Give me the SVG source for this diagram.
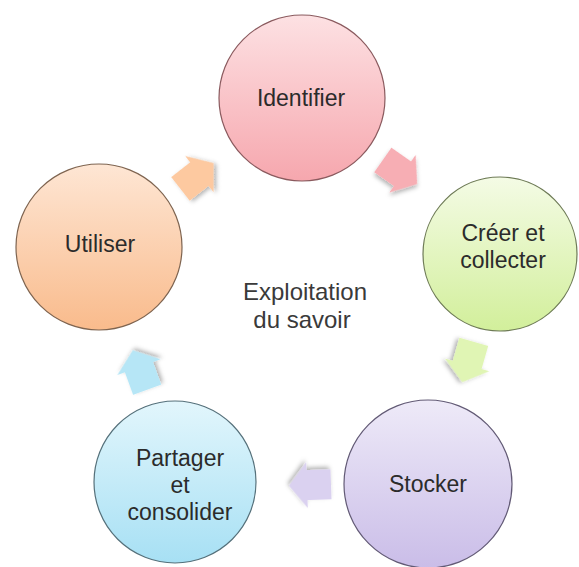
<svg xmlns="http://www.w3.org/2000/svg" width="579" height="567" viewBox="0 0 579 567">
  <defs>
    <linearGradient id="gPink" x1="0" y1="0" x2="0" y2="1"><stop offset="0" stop-color="#fde1e3"/><stop offset="1" stop-color="#f6a7ae"/></linearGradient>
    <linearGradient id="gGreen" x1="0" y1="0" x2="0" y2="1"><stop offset="0" stop-color="#f4fbe5"/><stop offset="1" stop-color="#d2ef9b"/></linearGradient>
    <linearGradient id="gPurple" x1="0" y1="0" x2="0" y2="1"><stop offset="0" stop-color="#eeeaf8"/><stop offset="1" stop-color="#cabde8"/></linearGradient>
    <linearGradient id="gBlue" x1="0" y1="0" x2="0" y2="1"><stop offset="0" stop-color="#e2f6fc"/><stop offset="1" stop-color="#a7e0f4"/></linearGradient>
    <linearGradient id="gOrange" x1="0" y1="0" x2="0" y2="1"><stop offset="0" stop-color="#fee6d4"/><stop offset="1" stop-color="#f9bb8c"/></linearGradient>
    <filter id="shadow" x="-30%" y="-30%" width="160%" height="160%">
      <feDropShadow dx="1.5" dy="2.5" stdDeviation="2" flood-color="#000" flood-opacity="0.3"/>
    </filter>
    <path id="arrow" d="M-21,-15 L3,-15 L3,-23 L21,0 L3,23 L3,15 L-21,15 Z"/>
  </defs>
  <style>
    .node circle { stroke-width: 1.2; }
    .lbl { font-family: "Liberation Sans", Arial, sans-serif; font-size: 23px; fill: #2b2b2b; text-anchor: middle; }
    .center { font-family: "Liberation Sans", Arial, sans-serif; font-size: 24px; fill: #3a3a3a; text-anchor: middle; }
    .arr { filter: url(#shadow); }
  </style>
  <rect width="579" height="567" fill="#ffffff"/>

  <g id="connectors">
    <use href="#arrow" class="arr" fill="#fdc9a0" transform="translate(197,176) rotate(-38)"/>
    <use href="#arrow" class="arr" fill="#f7aeb4" transform="translate(400,172) rotate(35)"/>
    <use href="#arrow" class="arr" fill="#e0f5b4" transform="translate(468,362) rotate(106)"/>
    <use href="#arrow" class="arr" fill="#dad1f0" transform="translate(310,485) rotate(178)"/>
    <use href="#arrow" class="arr" fill="#b6e6f6" transform="translate(140,370) rotate(250)"/>
  </g>

  <g id="identifier" class="node">
    <circle cx="302" cy="98" r="83" fill="url(#gPink)" stroke="#8a5a5e"/>
    <text class="lbl" x="301" y="106">Identifier</text>
  </g>
  <g id="creer" class="node">
    <circle cx="500" cy="254" r="77" fill="url(#gGreen)" stroke="#6d7a55"/>
    <text class="lbl" x="503" y="241">Créer et</text>
    <text class="lbl" x="503" y="268">collecter</text>
  </g>
  <g id="stocker" class="node">
    <circle cx="428" cy="484" r="84" fill="url(#gPurple)" stroke="#625a75"/>
    <text class="lbl" x="428" y="492">Stocker</text>
  </g>
  <g id="partager" class="node">
    <circle cx="175" cy="482" r="81" fill="url(#gBlue)" stroke="#55707a"/>
    <text class="lbl" x="180" y="466">Partager</text>
    <text class="lbl" x="180" y="493">et</text>
    <text class="lbl" x="180" y="520">consolider</text>
  </g>
  <g id="utiliser" class="node">
    <circle cx="99" cy="247" r="83" fill="url(#gOrange)" stroke="#7e6450"/>
    <text class="lbl" x="100" y="252">Utiliser</text>
  </g>
  <g id="title">
    <text class="center" x="305" y="300">Exploitation</text>
    <text class="center" x="302" y="328">du savoir</text>
  </g>
</svg>
